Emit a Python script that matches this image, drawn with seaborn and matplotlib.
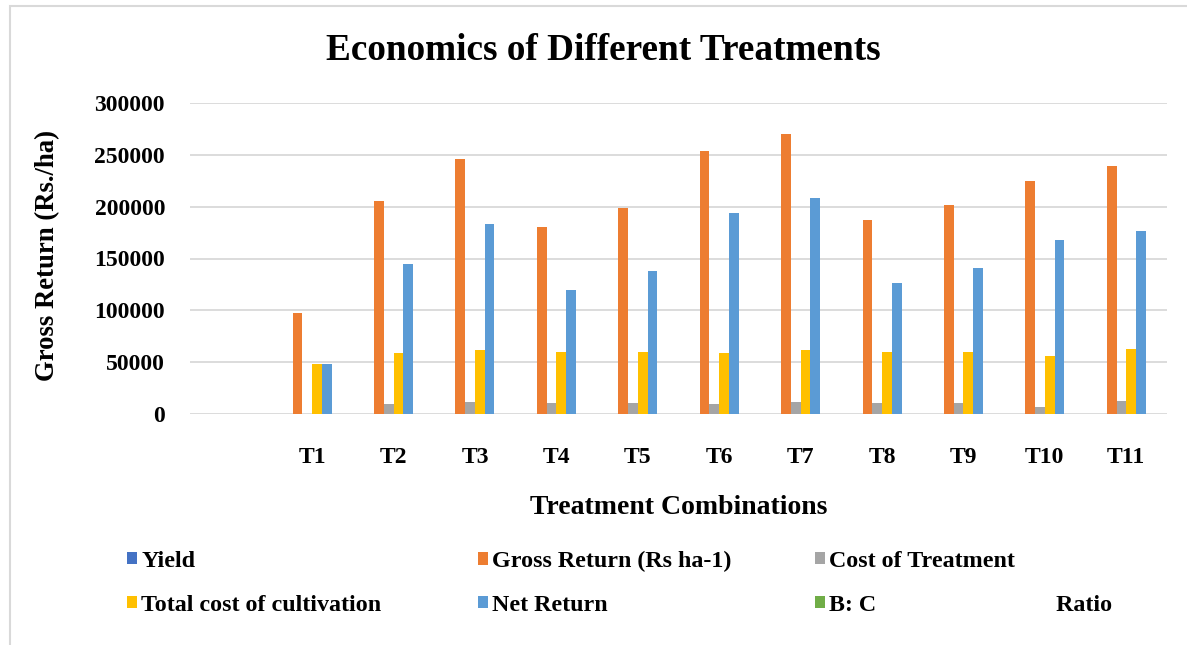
import pandas as pd
import matplotlib.pyplot as plt
import seaborn as sns
from matplotlib.patches import Patch, Rectangle

# Values (Rs/ha); yield and B:C are too small to show
treatments = ["T1", "T2", "T3", "T4", "T5", "T6", "T7", "T8", "T9", "T10", "T11"]
yield_q = [32.3, 68.3, 81.7, 60.2, 66.1, 84.5, 90.0, 62.4, 67.3, 75.0, 79.9]
gross_return = [97000, 205000, 245500, 180800, 198500, 253500, 270000, 187000, 202000, 225000, 239500]
cost_treatment = [0, 10000, 11600, 10300, 10300, 9300, 11600, 10600, 10600, 6800, 12900]
total_cost = [48500, 59200, 61400, 59500, 59500, 58900, 61400, 60100, 60100, 56000, 62400]
net_return = [48000, 145000, 183300, 120000, 138000, 194200, 208100, 126100, 140900, 168200, 176900]
bc_ratio = [2.0, 3.46, 4.0, 3.04, 3.34, 4.3, 4.4, 3.11, 3.36, 4.02, 3.84]

series = ["Yield", "Gross Return (Rs ha-1)", "Cost of Treatment",
          "Total cost of cultivation", "Net Return", "B: C" + " " * 30 + "Ratio"]
colors = ["#4472C4", "#ED7D31", "#A5A5A5", "#FFC000", "#5B9BD5", "#70AD47"]

rows = []
for name, vals in zip(series, [yield_q, gross_return, cost_treatment, total_cost, net_return, bc_ratio]):
    for t, v in zip(treatments, vals):
        rows.append({"Treatment": t, "Parameter": name, "Value": v})
df = pd.DataFrame(rows)

sns.set_style("white")
plt.rcParams["font.family"] = ["Liberation Serif", "DejaVu Serif"]
plt.rcParams["font.weight"] = "bold"
plt.rcParams["text.color"] = "black"
plt.rcParams["xtick.color"] = "black"
plt.rcParams["ytick.color"] = "black"
plt.rcParams["axes.labelcolor"] = "black"

fig = plt.figure(figsize=(11.87, 6.45), dpi=100)
ax = fig.add_axes([190 / 1187, 1 - 414 / 645, 977 / 1187, 311 / 645])

# first slot on the x axis is empty, as in the original sheet
order = [""] + treatments
sns.barplot(data=df, x="Treatment", y="Value", hue="Parameter", order=order,
            hue_order=series, palette=colors, saturation=1, width=0.72, gap=0,
            linewidth=0, errorbar=None, legend=False, ax=ax)

ax.set_ylim(0, 300000)
ax.set_yticks(range(0, 300001, 50000))
ax.yaxis.grid(True, color="#D9D9D9", linewidth=1.3)
ax.set_axisbelow(True)
for s in ax.spines.values():
    s.set_visible(False)
ax.tick_params(axis="both", length=0, labelsize=17)
ax.tick_params(axis="y", pad=18)
ax.tick_params(axis="x", pad=24)
for lab in ax.get_xticklabels() + ax.get_yticklabels():
    lab.set_fontweight("bold")

ax.set_xlabel("Treatment Combinations", fontsize=20, fontweight="bold")
ax.xaxis.label.set_va("center")
ax.xaxis.set_label_coords(0.5, (414 - 507) / 311)
ax.set_ylabel("Gross Return (Rs./ha)", fontsize=19.3, fontweight="bold")
ax.yaxis.label.set_va("center")
ax.yaxis.set_label_coords((48 - 190) / 977, 0.51)

fig.text(603 / 1187, 1 - 51 / 645, "Economics of Different Treatments",
         ha="center", va="center", fontsize=26.8, fontweight="bold")

# legend: 2 rows x 3 columns, one small legend per column
handles = [Patch(facecolor=c, edgecolor="none") for c in colors]
col_x = [127, 478, 815]
for k in range(3):
    fig.legend([handles[k], handles[k + 3]], [series[k], series[k + 3]],
               loc="upper left", bbox_to_anchor=(col_x[k] / 1187, 1 - 551 / 645),
               frameon=False, prop={"size": 17.3, "weight": "bold"},
               handlelength=0.4, handleheight=0.4, handletextpad=0.2,
               labelspacing=0.95, borderpad=0, borderaxespad=0)

# light chart border (left and top edges visible)
fig.patches.append(Rectangle((10 / 1187, -0.1), 1.2, 1.1 - 6 / 645,
                             transform=fig.transFigure, fill=False,
                             edgecolor="#D9D9D9", linewidth=1.5))

fig.savefig("out.png", dpi=100)
